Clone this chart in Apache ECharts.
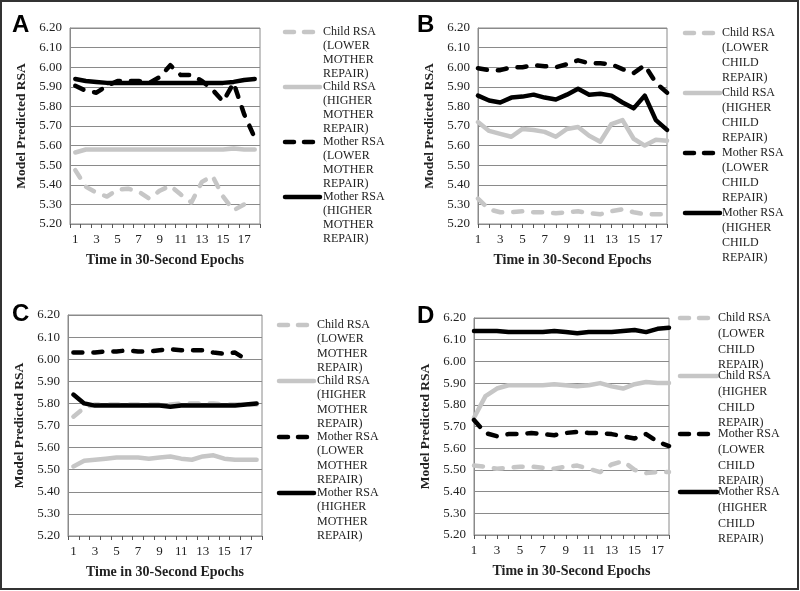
<!DOCTYPE html>
<html>
<head>
<meta charset="utf-8">
<script src="https://cdn.jsdelivr.net/npm/echarts@6/dist/echarts.min.js"></script>
<style>
html,body{margin:0;padding:0;background:#fff;}
#chart{width:800px;height:591px;}
</style>
</head>
<body>
<div id="chart"></div>
<script>
// ---------- DATA ----------
const epochs = ['1','2','3','4','5','6','7','8','9','10','11','12','13','14','15','16','17','18'];
const yTicks = [5.20, 5.30, 5.40, 5.50, 5.60, 5.70, 5.80, 5.90, 6.00, 6.10, 6.20];

// Panel A
const aChildLower  = [5.475,5.39,5.36,5.34,5.375,5.38,5.365,5.33,5.37,5.395,5.35,5.31,5.415,5.445,5.34,5.27,5.30,5.30];
const aChildHigher = [5.565,5.58,5.58,5.58,5.58,5.58,5.58,5.58,5.58,5.58,5.58,5.58,5.58,5.58,5.58,5.585,5.58,5.58];
const aMotherLower = [5.905,5.88,5.87,5.905,5.93,5.93,5.93,5.92,5.95,6.01,5.96,5.96,5.93,5.885,5.825,5.92,5.76,5.64];
const aMotherHigher= [5.94,5.93,5.925,5.92,5.92,5.92,5.92,5.92,5.92,5.92,5.92,5.92,5.92,5.92,5.92,5.925,5.935,5.94];

// Panel B
const bChildLower  = [5.33,5.275,5.26,5.26,5.265,5.26,5.26,5.255,5.26,5.265,5.255,5.25,5.265,5.275,5.26,5.25,5.25,5.25];
const bChildHigher = [5.72,5.675,5.66,5.645,5.685,5.68,5.67,5.645,5.685,5.695,5.65,5.62,5.71,5.73,5.635,5.60,5.63,5.625];
const bMotherLower = [5.995,5.985,5.985,6.00,6.00,6.01,6.005,6.00,6.015,6.035,6.02,6.02,6.015,5.99,5.97,6.01,5.92,5.87];
const bMotherHigher= [5.855,5.83,5.82,5.845,5.85,5.86,5.845,5.835,5.86,5.89,5.86,5.865,5.855,5.82,5.79,5.855,5.73,5.68];

// Panel C
const cChildLower  = [5.74,5.78,5.795,5.795,5.795,5.795,5.795,5.795,5.795,5.795,5.80,5.80,5.80,5.80,5.795,5.795,5.795,5.795];
const cChildHigher = [5.515,5.54,5.545,5.55,5.555,5.555,5.555,5.55,5.555,5.56,5.55,5.545,5.56,5.565,5.55,5.545,5.545,5.545];
const cMotherLower = [6.03,6.03,6.03,6.035,6.035,6.04,6.035,6.035,6.04,6.045,6.04,6.04,6.04,6.03,6.025,6.03,6.00,null];
const cMotherHigher= [5.84,5.80,5.79,5.79,5.79,5.79,5.79,5.79,5.79,5.785,5.79,5.79,5.79,5.79,5.79,5.79,5.795,5.80];

// Panel D
const dChildLower  = [5.52,5.515,5.505,5.51,5.515,5.515,5.51,5.505,5.515,5.52,5.505,5.49,5.525,5.54,5.50,5.485,5.49,5.49];
const dChildHigher = [5.74,5.84,5.875,5.89,5.89,5.89,5.89,5.895,5.89,5.885,5.89,5.90,5.885,5.875,5.895,5.905,5.90,5.90];
const dMotherLower = [5.73,5.67,5.655,5.665,5.665,5.67,5.665,5.66,5.67,5.675,5.67,5.67,5.665,5.655,5.645,5.665,5.63,5.61];
const dMotherHigher= [6.14,6.14,6.14,6.135,6.135,6.135,6.135,6.14,6.135,6.13,6.135,6.135,6.135,6.14,6.145,6.135,6.15,6.155];

const panelLetters = ['A','B','C','D'];
const yAxisTitle = 'Model Predicted RSA';
const xAxisTitle = 'Time in 30-Second Epochs';
const legendMother = [
  ['Child RSA','(LOWER','MOTHER','REPAIR)'],
  ['Child RSA','(HIGHER','MOTHER','REPAIR)'],
  ['Mother RSA','(LOWER','MOTHER','REPAIR)'],
  ['Mother RSA','(HIGHER','MOTHER','REPAIR)']
];
const legendChild = [
  ['Child RSA','(LOWER','CHILD','REPAIR)'],
  ['Child RSA','(HIGHER','CHILD','REPAIR)'],
  ['Mother RSA','(LOWER','CHILD','REPAIR)'],
  ['Mother RSA','(HIGHER','CHILD','REPAIR)']
];

// ---------- LAYOUT / STYLE ----------
const GRAY = '#c6c6c6';
const BLACK = '#000000';
const GRID_C = '#8a8a8a';
const SERIF = '"Liberation Serif", "DejaVu Serif", serif';
const DASH = [9, 11];
const seriesStyles = [
  {color: GRAY, dash: DASH},
  {color: GRAY, dash: 'solid'},
  {color: BLACK, dash: DASH},
  {color: BLACK, dash: 'solid'}
];

const panels = [
  {data:[aChildLower,aChildHigher,aMotherLower,aMotherHigher], legend: legendMother, gap:true,
   grid:{left:70, top:28, width:190, height:196}, letter:[12,13],
   leg:{x:283, y:32, len:32, tx:323, step:55, lh:14}},
  {data:[bChildLower,bChildHigher,bMotherLower,bMotherHigher], legend: legendChild, gap:false,
   grid:{left:478, top:28, width:189, height:196}, letter:[417,13],
   leg:{x:683, y:33, len:32, tx:722, step:60, lh:15}},
  {data:[cChildLower,cChildHigher,cMotherLower,cMotherHigher], legend: legendMother, gap:true,
   grid:{left:68, top:315, width:194, height:221}, letter:[12,302],
   leg:{x:277, y:325, len:32, tx:317, step:56, lh:14.2}},
  {data:[dChildLower,dChildHigher,dMotherLower,dMotherHigher], legend: legendChild, gap:false,
   grid:{left:474, top:318, width:195, height:217}, letter:[417,304],
   leg:{x:678, y:318, len:34, tx:718, step:58, lh:15.7}}
];

const grids = [], xAxes = [], yAxes = [], series = [], graphics = [];

graphics.push({type:'rect', shape:{x:1, y:1, width:797, height:588},
  style:{fill:'none', stroke:'#333', lineWidth:2}, silent:true});

panels.forEach((p, i) => {
  grids.push(Object.assign({show:true, borderColor:GRID_C, borderWidth:1, backgroundColor:'#fff'}, p.grid));
  xAxes.push({
    type:'category', gridIndex:i, data:epochs, boundaryGap:p.gap,
    axisLine:{lineStyle:{color:GRID_C, width:1}},
    axisTick:{show:true, interval:0, length:4, lineStyle:{color:'#555'}},
    axisLabel:{interval:1, color:'#222', fontFamily:SERIF, fontSize:13, margin:9},
    name:xAxisTitle, nameLocation:'middle', nameGap:29,
    nameTextStyle:{fontFamily:SERIF, fontWeight:'bold', fontSize:14, color:'#222'}
  });
  yAxes.push({
    type:'value', gridIndex:i, min:yTicks[0], max:yTicks[yTicks.length-1], interval:0.1,
    axisLine:{show:true, lineStyle:{color:GRID_C, width:1}},
    axisTick:{show:false},
    splitLine:{show:true, lineStyle:{color:GRID_C, width:1}},
    axisLabel:{color:'#222', fontFamily:SERIF, fontSize:13, margin:8, formatter:v => v.toFixed(2)},
    name:yAxisTitle, nameLocation:'middle', nameGap:41, nameRotate:90,
    nameTextStyle:{fontFamily:SERIF, fontWeight:'bold', fontSize:13.5, color:'#222'}
  });
  p.data.forEach((arr, k) => {
    const st = seriesStyles[k];
    series.push({
      type:'line', xAxisIndex:i, yAxisIndex:i, data:arr, symbol:'none',
      lineStyle:{color:st.color, width:4.5, type:st.dash, cap:'round', join:'round'},
      itemStyle:{color:st.color}, z:2+k, silent:true, animation:false
    });
  });
  // panel letter
  graphics.push({type:'text', left:p.letter[0], top:p.letter[1],
    style:{text:panelLetters[i], font:'bold 24px "Liberation Sans", Arial, sans-serif', fill:'#000'}});
  // legend
  p.legend.forEach((lines, k) => {
    const st = seriesStyles[k];
    const y = p.leg.y + k*p.leg.step;
    const dashed = st.dash !== 'solid';
    graphics.push({type:'line', shape:{x1:p.leg.x+2, y1:y, x2:p.leg.x + (dashed ? p.leg.len-2 : p.leg.len+5), y2:y},
      style:{stroke:st.color, lineWidth:4.5, lineDash: dashed ? [9,10] : null, lineCap:'round'}, silent:true});
    lines.forEach((t, j) => {
      graphics.push({type:'text', x:p.leg.tx, y:y + j*p.leg.lh,
        style:{text:t, font:'12px ' + SERIF, fill:'#222', textVerticalAlign:'middle', verticalAlign:'middle'}});
    });
  });
});

const chart = echarts.init(document.getElementById('chart'), null, {renderer:'canvas'});
chart.setOption({
  animation:false,
  backgroundColor:'#fff',
  grid:grids, xAxis:xAxes, yAxis:yAxes, series:series, graphic:graphics
});
</script>
</body>
</html>
